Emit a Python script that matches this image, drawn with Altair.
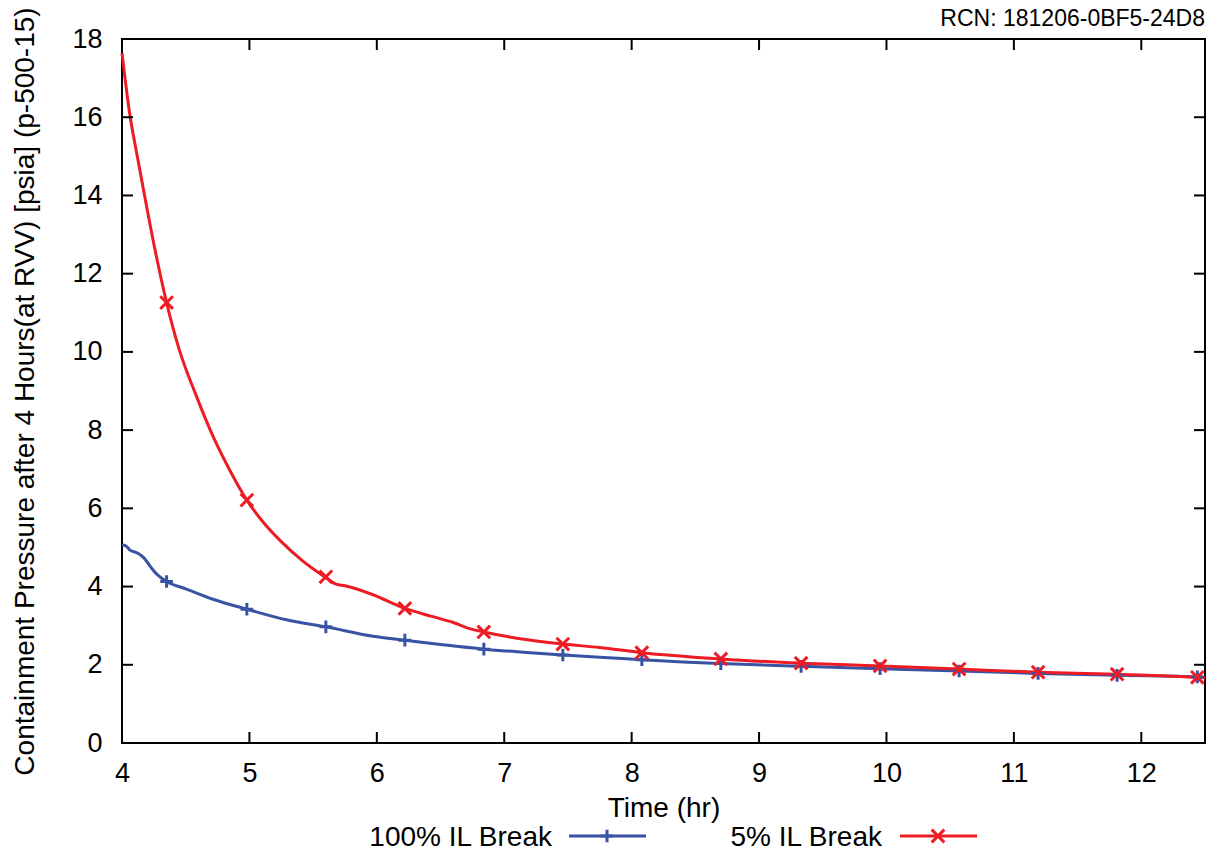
import altair as alt
import pandas as pd

FONT = "Liberation Sans"

series_names = ["100% IL Break", "5% IL Break"]
series_colors = ["#3953A4", "#ED1C24"]

blue_t = [4.0, 4.03, 4.06, 4.12, 4.17, 4.21, 4.25, 4.30, 4.35, 4.51, 4.72, 4.98, 5.29, 5.60,
          5.97, 6.22, 6.50, 6.84, 7.15, 7.46, 7.75, 8.08, 8.40, 8.70, 9.33, 9.95, 10.57, 11.19,
          11.81, 12.44, 12.5]
blue_p = [5.06, 5.04, 4.94, 4.86, 4.74, 4.57, 4.40, 4.24, 4.13, 3.93, 3.67, 3.42, 3.15, 2.97,
          2.73, 2.63, 2.52, 2.40, 2.32, 2.25, 2.19, 2.13, 2.07, 2.03, 1.96, 1.90, 1.84, 1.78,
          1.73, 1.69, 1.68]

red_t = [4.0, 4.06, 4.12, 4.18, 4.26, 4.35, 4.45, 4.58, 4.72, 4.85, 4.98, 5.12, 5.25, 5.42,
         5.59, 5.68, 5.75, 5.97, 6.22, 6.44, 6.60, 6.72, 6.84, 7.10, 7.46, 7.75, 8.08, 8.70,
         9.33, 9.95, 10.57, 11.19, 11.81, 12.44, 12.5]
red_p = [17.64, 16.1, 15.0, 13.95, 12.6, 11.26, 10.05, 8.9, 7.8, 6.95, 6.21, 5.6, 5.15, 4.65,
         4.25, 4.06, 4.02, 3.79, 3.44, 3.23, 3.08, 2.93, 2.84, 2.68, 2.53, 2.44, 2.31, 2.15,
         2.04, 1.97, 1.89, 1.81, 1.76, 1.68, 1.67]

marker_t = [4.35, 4.98, 5.60, 6.22, 6.84, 7.46, 8.08, 8.70, 9.33, 9.95, 10.57, 11.19, 11.81, 12.44]
blue_marker_p = [4.13, 3.42, 2.97, 2.63, 2.40, 2.25, 2.13, 2.03, 1.96, 1.90, 1.84, 1.78, 1.73, 1.69]
red_marker_p = [11.26, 6.21, 4.25, 3.44, 2.84, 2.53, 2.31, 2.15, 2.04, 1.97, 1.89, 1.81, 1.76, 1.68]

x_ticks = [4, 5, 6, 7, 8, 9, 10, 11, 12]
y_ticks = [0, 2, 4, 6, 8, 10, 12, 14, 16, 18]

x_title = "Time (hr)"
y_title = "Containment Pressure after 4 Hours(at RVV) [psia] (p-500-15)"
rcn_text = "RCN: 181206-0BF5-24D8"

W, H = 1083, 704
PLUS = "M-1,0L1,0M0,-1L0,1"
CROSS = "M-1,-1L1,1M-1,1L1,-1"
shapes = [PLUS, CROSS]

lines_df = pd.concat([
    pd.DataFrame({"t": blue_t, "p": blue_p, "s": series_names[0]}),
    pd.DataFrame({"t": red_t, "p": red_p, "s": series_names[1]}),
])
marks_df = pd.concat([
    pd.DataFrame({"t": marker_t, "p": blue_marker_p, "s": series_names[0]}),
    pd.DataFrame({"t": marker_t, "p": red_marker_p, "s": series_names[1]}),
])

xs = alt.Scale(domain=[4, 12.5], nice=False, zero=False)
ys = alt.Scale(domain=[0, 18], nice=False)
cs = alt.Scale(domain=series_names, range=series_colors)

x_axis = alt.Axis(values=x_ticks, format="d", ticks=False, domain=False, grid=False, labelFont=FONT,
                  labelFontSize=27, labelColor="black", labelPadding=17, title=x_title,
                  titleFont=FONT, titleFontSize=28, titleFontWeight="normal", titleColor="black",
                  titleY=73, titleBaseline="alphabetic", labelFlush=False)
y_axis = alt.Axis(values=y_ticks, format="d", ticks=False, domain=False, grid=False, labelFont=FONT,
                  labelFontSize=27, labelColor="black", labelPadding=20, title=y_title,
                  titleFont=FONT, titleFontSize=28, titleFontWeight="normal", titleColor="black",
                  titleX=-89, titleY=H / 2, titleAngle=-90, titleAlign="center",
                  titleBaseline="alphabetic", labelFlush=False)

base_lines = alt.Chart(lines_df).mark_line(strokeWidth=3, interpolate="monotone").encode(
    x=alt.X("t:Q", scale=xs, axis=x_axis),
    y=alt.Y("p:Q", scale=ys, axis=y_axis),
    color=alt.Color("s:N", scale=cs, legend=None),
    detail="s:N",
)

point_layers = []
for name, shp in zip(series_names, shapes):
    point_layers.append(
        alt.Chart(marks_df).transform_filter(alt.datum.s == name).mark_point(
            shape=shp, filled=False, size=160, strokeWidth=3, opacity=1
        ).encode(
            x=alt.X("t:Q", scale=xs),
            y=alt.Y("p:Q", scale=ys),
            color=alt.Color("s:N", scale=cs, legend=None),
        )
    )

xt_df = pd.DataFrame({"v": x_ticks})
yt_df = pd.DataFrame({"v": y_ticks})
TL = 11
tick_bottom = alt.Chart(xt_df).mark_rule(color="black", strokeWidth=2).encode(
    x=alt.X("v:Q", scale=xs), y=alt.value(H), y2=alt.value(H - TL))
tick_top = alt.Chart(xt_df).mark_rule(color="black", strokeWidth=2).encode(
    x=alt.X("v:Q", scale=xs), y=alt.value(0), y2=alt.value(TL))
tick_left = alt.Chart(yt_df).mark_rule(color="black", strokeWidth=2).encode(
    y=alt.Y("v:Q", scale=ys), x=alt.value(0), x2=alt.value(TL))
tick_right = alt.Chart(yt_df).mark_rule(color="black", strokeWidth=2).encode(
    y=alt.Y("v:Q", scale=ys), x=alt.value(W), x2=alt.value(W - TL))

# legend (gnuplot style: label then sample)
leg_text_right = [552 - 122, 882 - 122]
leg_line_x1 = [569 - 122, 900 - 122]
leg_line_x2 = [646 - 122, 977 - 122]
leg_sym_x = [607 - 122, 938 - 122]
leg_line_y = 836 - 39
leg_text_y = 846 - 39

legend_layers = []
for i, name in enumerate(series_names):
    ldf = pd.DataFrame({"s": [name]})
    legend_layers.append(alt.Chart(ldf).mark_text(
        font=FONT, fontSize=28, align="right", baseline="alphabetic", color="black"
    ).encode(text="s:N", x=alt.value(leg_text_right[i]), y=alt.value(leg_text_y)))
    legend_layers.append(alt.Chart(ldf).mark_rule(strokeWidth=3, color=series_colors[i]).encode(
        x=alt.value(leg_line_x1[i]), x2=alt.value(leg_line_x2[i]), y=alt.value(leg_line_y)))
    legend_layers.append(alt.Chart(ldf).mark_point(
        shape=shapes[i], filled=False, size=160, strokeWidth=3, opacity=1, color=series_colors[i]
    ).encode(x=alt.value(leg_sym_x[i]), y=alt.value(leg_line_y)))

rcn = alt.Chart(pd.DataFrame({"t": [rcn_text]})).mark_text(
    font=FONT, fontSize=23, align="right", baseline="alphabetic", color="black"
).encode(text="t:N", x=alt.value(W), y=alt.value(26 - 39))

chart = alt.layer(
    base_lines, *point_layers, tick_bottom, tick_top, tick_left, tick_right,
    *legend_layers, rcn
).properties(
    width=W, height=H,
    autosize=alt.AutoSizeParams(type="none"),
    padding={"left": 122, "top": 39, "right": 10, "bottom": 113},
    background="white",
).configure_view(stroke="black", strokeWidth=2)

chart.save("out.html", embed_options={"renderer": "svg", "actions": False})
